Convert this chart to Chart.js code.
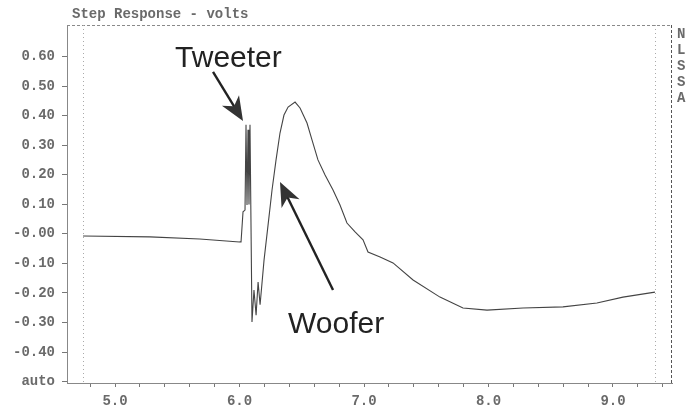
<!DOCTYPE html>
<html>
<head>
<meta charset="utf-8">
<script src="https://cdn.jsdelivr.net/npm/chart.js@4"></script>
<style>
  html, body { margin: 0; padding: 0; background: #fff; }
  #wrap { width: 687px; height: 411px; }
</style>
</head>
<body>
<div id="wrap"><canvas id="stepChart" width="687" height="411"></canvas></div>
<script>
// step response trace, time axis (ms) and volts
const timeValues = [4.743, 5.28, 5.68, 6.0, 6.012, 6.028, 6.044, 6.052, 6.06, 6.068, 6.076, 6.084,
  6.10, 6.116, 6.133, 6.149, 6.165, 6.197, 6.229, 6.261, 6.293, 6.325, 6.357, 6.39, 6.446,
  6.486, 6.542, 6.582, 6.63, 6.687, 6.751, 6.807, 6.863, 6.928, 6.992, 7.032, 7.129, 7.233,
  7.394, 7.61, 7.795, 7.988, 8.277, 8.598, 8.871, 9.08, 9.337];
const voltValues = [-0.007, -0.01, -0.017, -0.027, -0.027, 0.075, 0.081, 0.37, 0.098, 0.353, 0.10, 0.37,
  -0.298, -0.19, -0.275, -0.163, -0.24, -0.088, 0.03, 0.149, 0.25, 0.342, 0.403, 0.43, 0.447,
  0.427, 0.376, 0.319, 0.251, 0.20, 0.149, 0.098, 0.037, 0.007, -0.02, -0.061, -0.078, -0.098,
  -0.156, -0.214, -0.251, -0.258, -0.251, -0.247, -0.234, -0.214, -0.197];

const yTicks = [-0.5, -0.4, -0.3, -0.2, -0.1, 0, 0.1, 0.2, 0.3, 0.4, 0.5, 0.6];
const xTicks = [4.8, 5.0, 5.2, 5.4, 5.6, 5.8, 6.0, 6.2, 6.4, 6.6, 6.8, 7.0, 7.2, 7.4, 7.6,
  7.8, 8.0, 8.2, 8.4, 8.6, 8.8, 9.0, 9.2, 9.4];
const xLabels = [5, 6, 7, 8, 9];

const titleText = 'Step Response - volts';
const sideLetters = ['N', 'L', 'S', 'S', 'A'];

// callouts, positioned in data units
const callouts = [
  { text: 'Tweeter', tx: 5.482, ty: 0.566, from: [5.787, 0.549], to: [6.028, 0.383] },
  { text: 'Woofer', tx: 6.39, ty: -0.336, from: [6.751, -0.19], to: [6.325, 0.176] }
];

const monoFont = '"Liberation Mono", "DejaVu Sans Mono", monospace';
const textGrey = '#6a6a6a';

function drawArrow(ctx, x1, y1, x2, y2) {
  const ang = Math.atan2(y2 - y1, x2 - x1);
  const len = 24, half = 10;
  ctx.save();
  ctx.strokeStyle = '#222';
  ctx.lineWidth = 2.4;
  ctx.setLineDash([]);
  ctx.beginPath();
  ctx.moveTo(x1, y1);
  ctx.lineTo(x2 - Math.cos(ang) * len * 0.7, y2 - Math.sin(ang) * len * 0.7);
  ctx.stroke();
  ctx.translate(x2, y2);
  ctx.rotate(ang);
  ctx.fillStyle = '#333';
  ctx.beginPath();
  ctx.moveTo(0, 0);
  ctx.lineTo(-len, -half);
  ctx.lineTo(-len * 0.72, 0);
  ctx.lineTo(-len, half);
  ctx.closePath();
  ctx.fill();
  ctx.restore();
}

const decorations = {
  id: 'decorations',
  afterDraw(chart) {
    const { ctx, chartArea: a, scales: { x, y } } = chart;
    ctx.save();
    // frame top and right
    ctx.strokeStyle = '#8a8a8a';
    ctx.lineWidth = 1;
    ctx.setLineDash([3, 2]);
    ctx.beginPath();
    ctx.moveTo(a.left, a.top + 0.5);
    ctx.lineTo(a.right, a.top + 0.5);
    ctx.stroke();
    ctx.strokeStyle = '#555';
    ctx.beginPath();
    ctx.moveTo(a.right - 0.5, a.top);
    ctx.lineTo(a.right - 0.5, a.bottom);
    ctx.stroke();
    // inner dotted markers at the trace ends
    ctx.strokeStyle = '#aaa';
    ctx.setLineDash([1, 3]);
    [timeValues[0], timeValues[timeValues.length - 1]].forEach(t => {
      const px = Math.round(x.getPixelForValue(t)) + 0.5;
      ctx.beginPath();
      ctx.moveTo(px, a.top);
      ctx.lineTo(px, a.bottom);
      ctx.stroke();
    });
    ctx.setLineDash([]);

    // title
    ctx.fillStyle = textGrey;
    ctx.font = 'bold 14px ' + monoFont;
    ctx.textBaseline = 'middle';
    ctx.textAlign = 'left';
    ctx.fillText(titleText, 72, 14);

    // side letters
    sideLetters.forEach((c, i) => {
      ctx.fillText(c, a.right + 5, 34 + i * 16);
    });

    // callouts
    ctx.fillStyle = '#222';
    ctx.font = '30px "Liberation Sans", Arial, sans-serif';
    ctx.textBaseline = 'alphabetic';
    callouts.forEach(c => {
      ctx.fillText(c.text, x.getPixelForValue(c.tx), y.getPixelForValue(c.ty));
      drawArrow(ctx,
        x.getPixelForValue(c.from[0]), y.getPixelForValue(c.from[1]),
        x.getPixelForValue(c.to[0]), y.getPixelForValue(c.to[1]));
    });
    ctx.restore();
  }
};

const ctx = document.getElementById('stepChart').getContext('2d');
const stepChart = new Chart(ctx, {
  type: 'line',
  data: {
    datasets: [{
      data: timeValues.map((t, i) => ({ x: t, y: voltValues[i] })),
      borderColor: '#444',
      borderWidth: 1.1,
      pointRadius: 0,
      tension: 0,
      fill: false
    }]
  },
  options: {
    responsive: false,
    animation: false,
    layout: { padding: { top: 25, right: 15, left: 0, bottom: 0 } },
    plugins: {
      legend: { display: false },
      tooltip: { enabled: false },
      title: { display: false }
    },
    scales: {
      x: {
        type: 'linear',
        min: 4.614,
        max: 9.474,
        afterBuildTicks: axis => { axis.ticks = xTicks.map(v => ({ value: v })); },
        afterFit: axis => { axis.height = 28; },
        grid: { drawOnChartArea: false, drawTicks: true, tickLength: 4, color: '#777' },
        border: { display: true, color: '#888', dash: [4, 2] },
        ticks: {
          autoSkip: false,
          maxRotation: 0,
          padding: 6,
          color: textGrey,
          font: { family: monoFont, size: 14, weight: 'bold' },
          callback: v => xLabels.some(l => Math.abs(l - v) < 1e-6) ? v.toFixed(1) : ''
        }
      },
      y: {
        min: -0.505,
        max: 0.708,
        afterBuildTicks: axis => { axis.ticks = yTicks.map(v => ({ value: v })); },
        afterFit: axis => { axis.width = 67; },
        grid: { drawOnChartArea: false, drawTicks: true, tickLength: 5, color: '#777' },
        border: { display: true, color: '#888', dash: [3, 2] },
        ticks: {
          autoSkip: false,
          padding: 7,
          color: textGrey,
          font: { family: monoFont, size: 14, weight: 'bold' },
          callback: v => {
            if (Math.abs(v + 0.5) < 1e-6) return 'auto';
            if (Math.abs(v) < 1e-6) return '-0.00';
            return v.toFixed(2);
          }
        }
      }
    }
  },
  plugins: [decorations]
});
</script>
</body>
</html>
